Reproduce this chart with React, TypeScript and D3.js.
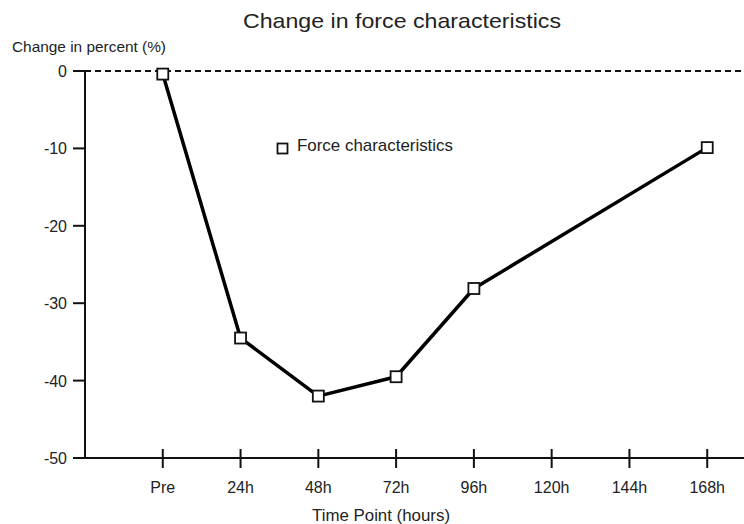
import React from "react";
import * as d3 from "d3";

const categories = ["", "Pre", "24h", "48h", "72h", "96h", "120h", "144h", "168h", ""];
const tickLabels = ["Pre", "24h", "48h", "72h", "96h", "120h", "144h", "168h"];
const pointCats = ["Pre", "24h", "48h", "72h", "96h", "168h"];
const pointVals = [-0.4, -34.5, -42.0, -39.5, -28.1, -9.9];
const yTicks = [0, -10, -20, -30, -40, -50];

export default function App() {
  const W = 744, H = 524;
  const x = d3.scalePoint<string>().domain(categories.map((c, i) => String(i))).range([85, 785]);
  const xi = (c: string) => x(String(categories.indexOf(c)))!;
  const y = d3.scaleLinear().domain([-50, 0]).range([458, 71]);
  const line = d3.line<number>().x((_, i) => xi(pointCats[i])).y((v) => y(v));
  const font = "'Liberation Sans', Arial, sans-serif";
  const x0 = x("0")!;
  const txt = "#222";
  return (
    <svg width={W} height={H} style={{ position: "absolute", left: 0, top: 0, background: "#fff" }} fontFamily={font}>
      <text x={243} y={28} fontSize={21} fill={txt} textLength={318} lengthAdjust="spacingAndGlyphs">Change in force characteristics</text>
      <text x={12} y={52} fontSize={15} fill={txt} textLength={154} lengthAdjust="spacingAndGlyphs">Change in percent (%)</text>
      {/* dashed zero line */}
      <line x1={x0} x2={W} y1={y(0)} y2={y(0)} stroke="#111" strokeWidth={2} strokeDasharray="6,4" />
      {/* y axis */}
      <line x1={x0} x2={x0} y1={y(0)} y2={y(-50)} stroke="#111" strokeWidth={2} />
      {yTicks.map((t) => (
        <g key={t}>
          <line x1={x0 - 12} x2={x0} y1={y(t)} y2={y(t)} stroke="#111" strokeWidth={2} />
          <text x={x0 - 18} y={y(t) + 6} textAnchor="end" fontSize={16} fill={txt}>{t}</text>
        </g>
      ))}
      {/* x axis */}
      <line x1={x0} x2={x("9")!} y1={y(-50)} y2={y(-50)} stroke="#111" strokeWidth={2} />
      {tickLabels.map((c) => (
        <g key={c}>
          <line x1={xi(c)} x2={xi(c)} y1={y(-50) - 9} y2={y(-50) + 10} stroke="#111" strokeWidth={2} />
          <text x={xi(c)} y={y(-50) + 35} textAnchor="middle" fontSize={16} fill={txt}>{c}</text>
        </g>
      ))}
      <line x1={x("9")!} x2={x("9")!} y1={y(-50) - 9} y2={y(-50) + 10} stroke="#111" strokeWidth={2} />
      <text x={381} y={521} textAnchor="middle" fontSize={16} fill={txt} textLength={138} lengthAdjust="spacingAndGlyphs">Time Point (hours)</text>
      {/* series */}
      <path d={line(pointVals)!} fill="none" stroke="#000" strokeWidth={3.5} strokeLinejoin="round" />
      {pointVals.map((v, i) => (
        <rect key={i} x={xi(pointCats[i]) - 5.5} y={y(v) - 5.5} width={11} height={11} fill="#fff" stroke="#111" strokeWidth={1.8} />
      ))}
      {/* legend */}
      <rect x={277.5} y={143.5} width={10} height={10} fill="#fff" stroke="#111" strokeWidth={1.8} />
      <text x={297} y={151} fontSize={17} fill={txt} textLength={156} lengthAdjust="spacingAndGlyphs">Force characteristics</text>
    </svg>
  );
}
